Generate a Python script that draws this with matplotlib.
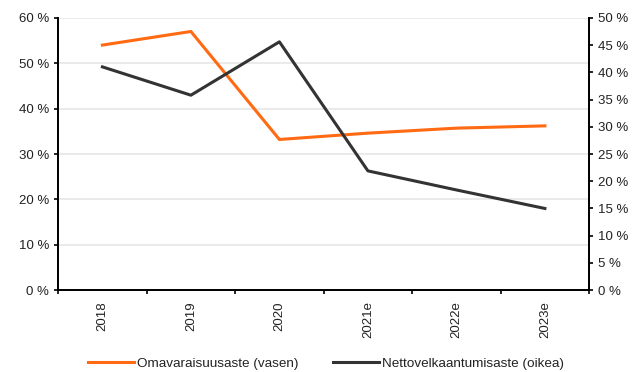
import matplotlib.pyplot as plt
from matplotlib.ticker import FixedLocator, FuncFormatter

plt.rcParams['font.family'] = ['Liberation Sans', 'DejaVu Sans']

years = ["2018", "2019", "2020", "2021e", "2022e", "2023e"]
omavaraisuus = [54.0, 57.0, 33.2, 34.6, 35.7, 36.2]
nettovelka = [41.0, 35.8, 45.6, 21.9, 18.4, 15.0]

ORANGE = "#FF6A13"
DARK = "#333333"

fig = plt.figure(figsize=(6.39, 3.72), dpi=100)
ax = fig.add_axes([0.091, 0.22, 0.831, 0.732])
ax2 = ax.twinx()

x = list(range(len(years)))
l1, = ax.plot(x, omavaraisuus, color=ORANGE, linewidth=2.2, label="Omavaraisuusaste (vasen)")
l2, = ax2.plot(x, nettovelka, color=DARK, linewidth=2.2, label="Nettovelkaantumisaste (oikea)")

ax.set_xlim(-0.5, len(years) - 0.5)
ax.set_ylim(0, 60)
ax2.set_ylim(0, 50)

ax.set_yticks(range(0, 61, 10))
ax2.set_yticks(range(0, 51, 5))
pct = FuncFormatter(lambda v, p: f"{int(v)} %")
ax.yaxis.set_major_formatter(pct)
ax2.yaxis.set_major_formatter(pct)

ax.grid(axis='y', color="#e6e6e6", linewidth=1.2)
ax.set_axisbelow(True)

# boundary ticks without labels, labels centred on categories
ax.xaxis.set_major_locator(FixedLocator([i - 0.5 for i in range(len(years) + 1)]))
ax.xaxis.set_major_formatter(FuncFormatter(lambda v, p: ""))
ax.xaxis.set_minor_locator(FixedLocator(x))
ax.set_xticklabels(years, minor=True, rotation=90)
ax.tick_params(axis='x', which='minor', length=0, pad=8, labelsize=9.5, labelcolor="#222222")
ax.tick_params(axis='x', which='major', length=3, width=1.2, direction='out')
ax.tick_params(axis='y', length=3, width=1.2, labelsize=9.5, labelcolor="#222222")
ax2.tick_params(axis='y', length=3, width=1.2, labelsize=9.5, labelcolor="#222222")

for a in (ax, ax2):
    a.spines['top'].set_visible(False)
    for s in ('left', 'right', 'bottom'):
        a.spines[s].set_linewidth(1.3)
        a.spines[s].set_color("black")

fig.legend(handles=[l1, l2], loc='center', bbox_to_anchor=(0.51, 0.022), ncol=2,
           frameon=False, fontsize=9.7, handlelength=3.4, columnspacing=2.6,
           handletextpad=0.2, labelcolor="#222222")

fig.savefig("out.png", dpi=100)
